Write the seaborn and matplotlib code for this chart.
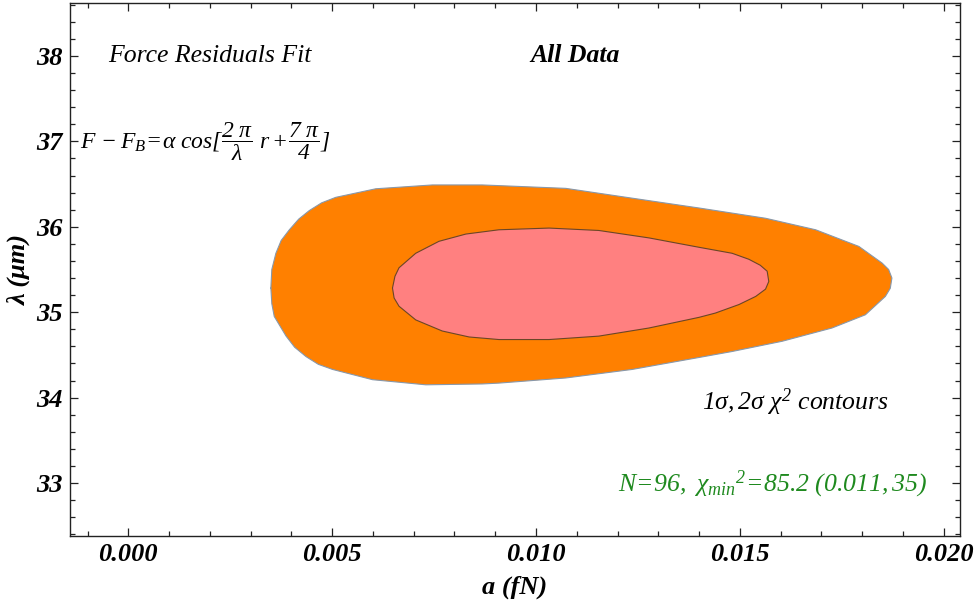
import numpy as np
import pandas as pd
import seaborn as sns
import matplotlib
matplotlib.use("Agg")
import matplotlib.pyplot as plt
from matplotlib.ticker import MultipleLocator

# Confidence-region boundaries in the (a, lambda) plane
outer_a = [0.003497, 0.00352, 0.00362, 0.00375, 0.00395, 0.00418, 0.00444, 0.00474,
           0.00509, 0.00607, 0.00746, 0.00868, 0.01073, 0.01236, 0.01400, 0.01563,
           0.01686, 0.01792, 0.01849, 0.01865, 0.01873, 0.01869, 0.01857, 0.01808,
           0.01726, 0.01604, 0.01481, 0.01400, 0.01236, 0.01073, 0.00909, 0.00868,
           0.00730, 0.00599, 0.00501, 0.00466, 0.00436, 0.00408, 0.00387, 0.00358,
           0.00352]
outer_lam = [35.283, 35.50, 35.69, 35.84, 35.965, 36.09, 36.19, 36.28,
             36.345, 36.445, 36.49, 36.49, 36.45, 36.335, 36.22, 36.10,
             35.965, 35.77, 35.575, 35.50, 35.40, 35.28, 35.185, 34.97,
             34.815, 34.66, 34.54, 34.47, 34.33, 34.23, 34.17, 34.16,
             34.15, 34.21, 34.33, 34.39, 34.48, 34.59, 34.72, 34.95,
             35.10]

inner_a = [0.00648, 0.00654, 0.00664, 0.00705, 0.00762, 0.00828, 0.00909, 0.01032,
           0.01154, 0.01277, 0.01400, 0.01481, 0.01522, 0.01550, 0.01567, 0.01571,
           0.01563, 0.01539, 0.01498, 0.01440, 0.01400, 0.01277, 0.01154, 0.01032,
           0.00909, 0.00836, 0.00770, 0.00705, 0.00664, 0.00652]
inner_lam = [35.283, 35.42, 35.52, 35.69, 35.83, 35.915, 35.965, 35.985,
             35.957, 35.87, 35.76, 35.69, 35.62, 35.55, 35.48, 35.36,
             35.27, 35.185, 35.09, 34.99, 34.94, 34.815, 34.72, 34.68,
             34.68, 34.71, 34.78, 34.91, 35.07, 35.166]

x_ticks = [0.000, 0.005, 0.010, 0.015, 0.020]
y_ticks = [33, 34, 35, 36, 37, 38]

sns.set_theme(style="ticks")
serif = ["Liberation Serif", "DejaVu Serif"]
plt.rcParams["font.family"] = serif
plt.rcParams["text.color"] = "black"
plt.rcParams["axes.labelcolor"] = "black"
plt.rcParams["mathtext.fontset"] = "custom"
plt.rcParams["mathtext.rm"] = "Liberation Serif:italic"
plt.rcParams["mathtext.it"] = "Liberation Serif:italic"
plt.rcParams["mathtext.bf"] = "Liberation Serif:bold:italic"
plt.rcParams["mathtext.fallback"] = "stix"

fig = plt.figure(figsize=(9.76, 6.12), dpi=100)
ax = fig.add_axes([70 / 976, 1 - 536 / 612, 890 / 976, 533 / 612])

regions = [
    ("2sigma", outer_a, outer_lam, "#FF8000", "#8898aa"),
    ("1sigma", inner_a, inner_lam, "#FF8080", "#6b4626"),
]
for name, xa, yl, face, edge in regions:
    df = pd.DataFrame({"a": xa + [xa[0]], "lam": yl + [yl[0]]})
    ax.fill(df["a"], df["lam"], color=face, lw=0, zorder=2)
    sns.lineplot(data=df, x="a", y="lam", sort=False, estimator=None,
                 color=edge, lw=0.8, ax=ax, zorder=3)

ax.set_xlim(-0.00143, 0.02040)
ax.set_ylim(32.38, 38.62)
ax.set_xticks(x_ticks)
ax.set_yticks(y_ticks)
ax.set_xticklabels([f"{v:.3f}" for v in x_ticks])
ax.set_yticklabels([str(v) for v in y_ticks])
ax.xaxis.set_minor_locator(MultipleLocator(0.001))
ax.yaxis.set_minor_locator(MultipleLocator(0.2))
ax.tick_params(which="both", direction="in", top=True, right=True,
               color="#222222", width=0.9)
ax.tick_params(which="major", length=6, pad=5)
ax.tick_params(which="minor", length=3.5)
for lab in ax.get_xticklabels() + ax.get_yticklabels():
    lab.set_fontweight("bold")
    lab.set_fontstyle("italic")
    lab.set_fontsize(19)
    lab.set_color("black")
for sp in ax.spines.values():
    sp.set_color("#222222")
    sp.set_linewidth(1.0)

ax.set_xlabel("a (fN)", fontsize=19, fontweight="bold", fontstyle="italic", labelpad=7)
ax.set_ylabel("λ (μm)", fontsize=19, fontweight="bold", fontstyle="italic", labelpad=4)

ax.text(0.00199, 38.0, "Force Residuals Fit", fontsize=18.5, fontstyle="italic",
        ha="center", va="center")
ax.text(0.01096, 38.0, "All Data", fontsize=18.5, fontstyle="italic", fontweight="bold",
        ha="center", va="center")
ax.text(-0.00118, 37.0,
        r"$F\,-F_B\!=\!\alpha\ cos[\dfrac{2\ \pi}{\lambda}\ r+\!\dfrac{7\ \pi}{4}]$",
        fontsize=17, ha="left", va="center")
ax.text(0.01866, 33.95, r"$1\sigma,2\sigma\ \chi^{2}\ contours$",
        fontsize=18.5, ha="right", va="center")
ax.text(0.01958, 32.98,
        r"$N\!=\!96,\ \chi_{min}{}^{2}\!=\!85.2\ (0.011,35)$",
        fontsize=18.5, color="#1f8a1f", ha="right", va="center")

fig.savefig("out.png", dpi=100)
